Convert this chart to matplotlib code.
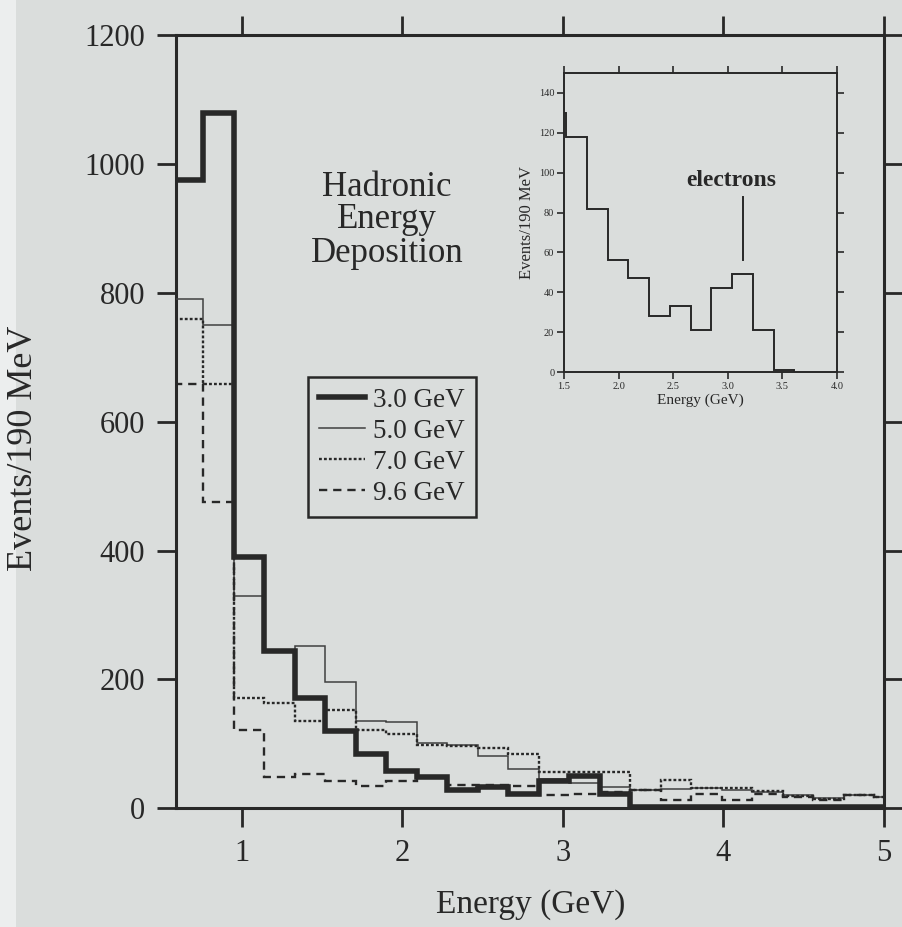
import matplotlib
matplotlib.use("Agg")
import numpy as np
import matplotlib.pyplot as plt
from matplotlib.lines import Line2D
from matplotlib.patches import Rectangle

# histogram binning (190 MeV bins)
bin_width = 0.19
first_edge = 0.57

beam_labels = ["3.0 GeV", "5.0 GeV", "7.0 GeV", "9.6 GeV"]

counts_3gev = [975, 1080, 390, 244, 172, 120, 84, 58, 49, 29, 33, 22,
               42, 50, 22, 2, 2, 2, 2, 2, 2, 2, 2, 2]
counts_5gev = [790, 750, 330, 245, 252, 196, 136, 134, 101, 99, 81, 61,
               46, 40, 33, 28, 30, 32, 28, 25, 20, 16, 21, 18]
counts_7gev = [760, 659, 172, 163, 136, 152, 121, 116, 98, 97, 94, 85,
               57, 56, 56, 28, 44, 32, 31, 27, 19, 14, 21, 18]
counts_96gev = [659, 475, 121, 49, 54, 43, 34, 43, 48, 36, 36, 34,
                21, 22, 26, 28, 13, 22, 13, 23, 18, 13, 20, 17]

# inset: 3.0 GeV beam, zoom on the electron peak
inset_first_edge = 1.33
inset_counts = [130, 118, 82, 56, 47, 28, 33, 21, 42, 49, 21, 1]

x_ticks = [1, 2, 3, 4, 5]
y_ticks = [0, 200, 400, 600, 800, 1000, 1200]
inset_x_ticks = [1.5, 2.0, 2.5, 3.0, 3.5, 4.0]
inset_y_ticks = [0, 20, 40, 60, 80, 100, 120, 140]

paper = "#dadddc"
ink = "#282828"
serif = ["Liberation Serif", "DejaVu Serif"]
plt.rcParams["font.family"] = serif

edges = first_edge + bin_width * np.arange(len(counts_3gev) + 1)
inset_edges = inset_first_edge + bin_width * np.arange(len(inset_counts) + 1)

fig = plt.figure(figsize=(9.02, 9.27), dpi=100)
fig.patch.set_facecolor(paper)
# lighter page edge on the far left of the photo
fig.patches.append(Rectangle((0, 0), 16 / 902, 1, transform=fig.transFigure,
                             facecolor="#eceeee", edgecolor="none", zorder=0))

ax = fig.add_axes([0.195, 0.128, 0.785, 0.834])
ax.set_facecolor("none")

styles = [
    dict(lw=4.0, ls="-", color=ink),
    dict(lw=1.1, ls="-", color="#404040"),
    dict(lw=1.7, ls=(0, (1.2, 0.9)), color=ink),
    dict(lw=1.7, ls=(0, (3.5, 2.5)), color=ink),
]
all_counts = [counts_3gev, counts_5gev, counts_7gev, counts_96gev]

# thin series underneath, thick 3 GeV on top
for counts, st, z in zip(all_counts, styles, [5, 3, 3, 3]):
    ax.stairs(counts, edges, baseline=0, linewidth=st["lw"], linestyle=st["ls"],
              edgecolor=st["color"], zorder=z)

ax.set_xlim(0.59, 5.0)
ax.set_ylim(0, 1200)
ax.set_xticks(x_ticks)
ax.set_yticks(y_ticks)
ax.tick_params(direction="out", top=True, right=True, length=14, width=2,
               labelsize=22, color=ink, labelcolor=ink, pad=8)
for sp in ax.spines.values():
    sp.set_linewidth(2.2)
    sp.set_color(ink)

fig.text(531 / 902, 1 - 905 / 927, "Energy (GeV)", ha="center", va="center",
         fontsize=24, color=ink)
fig.text(24 / 902, 1 - 448 / 927, "Events/190 MeV", ha="center", va="center",
         rotation=90, fontsize=26, color=ink)

fig.text(387 / 902, 1 - 220 / 927, "Hadronic\nEnergy\nDeposition", ha="center",
         va="center", multialignment="center", fontsize=25, color=ink,
         linespacing=1.0)

handles = [Line2D([], [], linewidth=st["lw"], linestyle=st["ls"], color=st["color"])
           for st in styles]
leg = ax.legend(handles, beam_labels, loc="upper left",
                bbox_to_anchor=(308 / 902, 1 - 377 / 927),
                bbox_transform=fig.transFigure, fontsize=19.5, frameon=True,
                fancybox=False, framealpha=1, facecolor=paper, edgecolor=ink,
                handlelength=1.7, handletextpad=0.3, labelspacing=0.22,
                borderpad=0.4, borderaxespad=0)
leg.get_frame().set_linewidth(1.8)
for t in leg.get_texts():
    t.set_color(ink)

# inset
ax_in = fig.add_axes([564 / 902, 1 - 372 / 927, 273 / 902, 299 / 927])
ax_in.set_facecolor("none")
ax_in.stairs(inset_counts, inset_edges, baseline=0, linewidth=1.4,
             edgecolor=ink)
ax_in.set_xlim(1.5, 4.0)
ax_in.set_ylim(0, 150)
ax_in.set_xticks(inset_x_ticks)
ax_in.set_xticklabels(["%.1f" % v for v in inset_x_ticks])
ax_in.set_yticks(inset_y_ticks)
ax_in.tick_params(direction="out", top=True, right=True, length=5, width=1.2,
                  labelsize=7.5, color=ink, labelcolor=ink, pad=2)
for sp in ax_in.spines.values():
    sp.set_linewidth(1.4)
    sp.set_color(ink)
ax_in.set_xlabel("Energy (GeV)", fontsize=11, color=ink, labelpad=2)
ax_in.set_ylabel("Events/190 MeV", fontsize=12, color=ink, labelpad=3)

ax_in.text(3.03, 96, "electrons", ha="center", va="center", fontsize=17,
           fontweight="bold", color=ink)
ax_in.plot([3.14, 3.14], [56, 88], color=ink, lw=1.4)

fig.savefig("out.png", dpi=100, facecolor=paper)
